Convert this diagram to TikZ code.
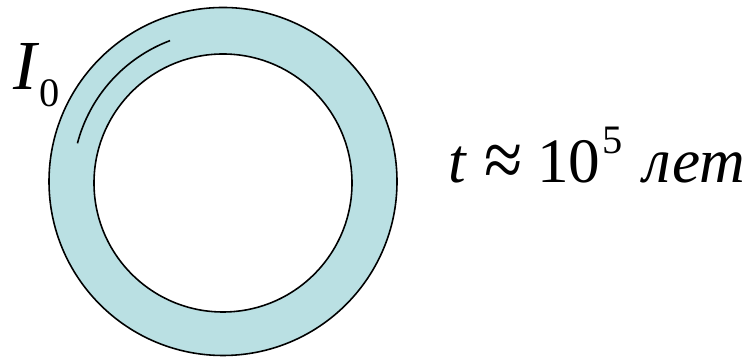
\documentclass[tikz,border=0pt]{standalone}
\usepackage{fontspec}
\setmainfont{Liberation Serif}
\usepackage{graphicx}
\usepackage{xcolor}
\usepackage{tikz}
\definecolor{ringblue}{HTML}{BAE0E3}

\begin{document}
\begin{tikzpicture}[x=0.02cm,y=0.02cm]
\useasboundingbox (0,0) rectangle (753,357);

% Anello
\coordinate (c) at (223,175.5);
\coordinate (ci) at (223,174);
\fill[ringblue,even odd rule] (c) circle (174) (ci) circle (129);
\draw[line width=0.9pt] (c) circle (174);
\draw[line width=0.9pt] (ci) circle (129);

% Corrente
\draw[line width=0.9pt] (c) ++(165.3:150.5) arc[start angle=165.3, end angle=110.6, radius=150.5];

% Testo
\node[anchor=base west,inner sep=0pt] (current) at (13,267)
    {\fontsize{40}{40}\selectfont\textit{I}\raisebox{-9.6pt}{\fontsize{23}{23}\selectfont 0}};
\node[anchor=base west,inner sep=0pt] (time) at (448,174)
    {\fontsize{36}{36}\selectfont\textit{t}\hspace{1pt} \raisebox{-2.5pt}{\scalebox{1.1}[1.3]{≈}}\hspace{8pt}10\hspace{1pt}\raisebox{17pt}{\fontsize{23}{23}\selectfont 5}\hspace{3pt} \textit{лет}};
\end{tikzpicture}
\end{document}
